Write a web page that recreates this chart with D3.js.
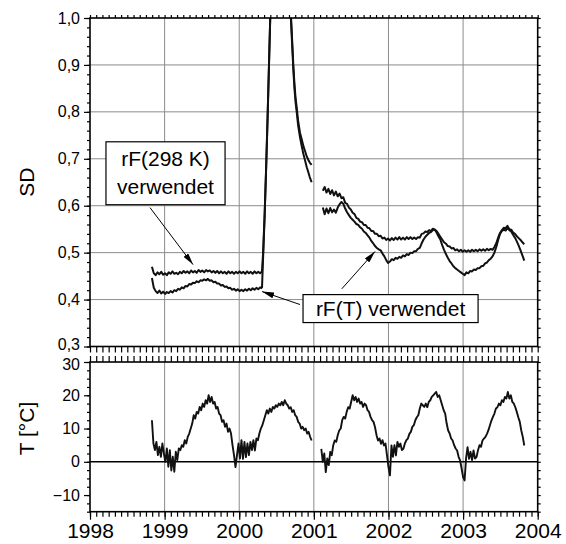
<!DOCTYPE html>
<html><head><meta charset="utf-8">
<script src="https://cdn.jsdelivr.net/npm/d3@7/dist/d3.min.js"></script>
<style>body{margin:0;background:#fff}svg{display:block}svg text{font-family:"Liberation Sans",Arial,sans-serif !important}</style>
</head><body><svg id="c" width="566" height="544" font-family="Liberation Sans"></svg>
<script>
// ---------- DATA ----------
const yearTicks = [1998, 1999, 2000, 2001, 2002, 2003, 2004];
const sdTicks = [0.3, 0.4, 0.5, 0.6, 0.7, 0.8, 0.9, 1.0];
const tTicks = [-10, 0, 10, 20, 30];

// SD, rF(298 K) verwendet (upper curve) – regularly sampled segments
const sdUpper1Start = 1998.83, sdStep = 0.025;
const sdUpper1 = [0.470,0.456,0.452,0.458,0.454,0.459,0.453,0.456,0.452,0.458,0.455,0.460,0.455,0.457,0.454,0.459,0.456,0.461,0.457,0.460,0.456,0.462,0.458,0.461,0.457,0.463,0.459,0.462,0.458,0.463,0.460,0.462,0.458,0.461,0.457,0.461,0.456,0.460,0.456,0.459,0.455,0.460,0.456,0.459,0.455,0.459,0.456,0.460,0.456,0.459,0.455,0.460,0.456,0.459,0.455,0.460,0.456,0.459,0.456,0.460];
// SD, rF(T) verwendet (lower curve)
const sdLower1 = [0.446,0.425,0.418,0.414,0.419,0.413,0.417,0.412,0.416,0.414,0.418,0.415,0.420,0.418,0.423,0.421,0.426,0.424,0.429,0.428,0.433,0.432,0.436,0.435,0.439,0.437,0.441,0.440,0.443,0.441,0.444,0.440,0.441,0.437,0.438,0.434,0.434,0.430,0.431,0.427,0.428,0.424,0.425,0.421,0.423,0.419,0.422,0.418,0.421,0.418,0.422,0.419,0.423,0.420,0.424,0.421,0.425,0.422,0.426,0.424];
// spike in 2000 (both curves)
const spikeYears = [2000.305,2000.32,2000.34,2000.36,2000.38,2000.40,2000.42,2000.46,2000.55,2000.64,2000.68,2000.695,2000.71,2000.725,2000.74,2000.755,2000.77,2000.79,2000.815,2000.84,2000.86,2000.885,2000.905,2000.925,2000.945,2000.97];
const spikeUpper = [0.460,0.50,0.58,0.68,0.79,0.91,1.03,1.15,1.25,1.15,1.05,1.00,0.95,0.90,0.86,0.83,0.81,0.78,0.755,0.74,0.727,0.715,0.705,0.698,0.692,0.687];
const spikeLower = [0.424,0.49,0.575,0.675,0.785,0.905,1.025,1.14,1.24,1.14,1.04,0.99,0.94,0.89,0.85,0.82,0.80,0.77,0.745,0.725,0.71,0.695,0.682,0.672,0.661,0.650];
const sd2Start = 2001.12;
const sdUpper2 = [0.632,0.640,0.628,0.636,0.625,0.633,0.622,0.630,0.620,0.626,0.616,0.618,0.606,0.604,0.596,0.592,0.585,0.582,0.574,0.572,0.566,0.565,0.559,0.559,0.553,0.552,0.546,0.546,0.540,0.540,0.535,0.536,0.530,0.532,0.527,0.530,0.526,0.531,0.527,0.532,0.528,0.533,0.528,0.532,0.528,0.533,0.529,0.533,0.529,0.532,0.529,0.533,0.532,0.540,0.541,0.545,0.544,0.548,0.546,0.551,0.549,0.546,0.540,0.534,0.528,0.522,0.519,0.514,0.513,0.509,0.510,0.505,0.507,0.503,0.506,0.502,0.505,0.502,0.505,0.502,0.506,0.503,0.506,0.503,0.507,0.504,0.507,0.504,0.508,0.505,0.508,0.506,0.512,0.520,0.532,0.542,0.548,0.553,0.552,0.557,0.550,0.549,0.543,0.540,0.535,0.531,0.527,0.522,0.518];
const sdLower2 = [0.596,0.582,0.594,0.584,0.595,0.586,0.592,0.585,0.596,0.603,0.608,0.604,0.594,0.586,0.580,0.574,0.570,0.566,0.561,0.559,0.554,0.551,0.545,0.542,0.537,0.532,0.525,0.520,0.514,0.510,0.507,0.505,0.498,0.492,0.484,0.478,0.481,0.486,0.484,0.489,0.487,0.491,0.489,0.494,0.492,0.497,0.495,0.500,0.499,0.503,0.503,0.508,0.510,0.520,0.528,0.534,0.538,0.542,0.544,0.548,0.549,0.543,0.535,0.528,0.516,0.506,0.497,0.489,0.482,0.477,0.471,0.467,0.464,0.461,0.458,0.455,0.452,0.458,0.456,0.461,0.460,0.464,0.463,0.467,0.467,0.471,0.472,0.477,0.479,0.484,0.487,0.492,0.500,0.512,0.527,0.540,0.546,0.549,0.547,0.552,0.548,0.545,0.538,0.532,0.524,0.515,0.505,0.494,0.483];

// Temperature T [°C]
const tStep = 0.02;
const t1Start = 1998.83;
const temp1 = [12.5,5.5,3.5,6,2,4.5,1.5,5.5,2.5,0,4,-1.5,3.5,-2.6,1.5,-3,3,0.5,4,3.5,5,4.5,6.5,5.5,7.5,8.5,10,11.5,14,13,15,14.5,16.5,15.5,17.5,16.5,18.5,17.5,20,18,19.5,17.5,18,16,16.5,14.5,14,12,12.5,10.5,11.5,9,10,8.5,5,2,-1.6,2,5.5,1,6.5,0.9,6,1.4,5.5,2,6,3.5,6.5,3.4,7,6.5,8.5,10,11,12.5,14,15.5,14.5,16,15,16.5,16,17,16.5,17.5,17,18,17,18.5,17.5,17,16,16.4,15,15.5,14,13.5,12,11.5,10,10.5,9.5,10,8.5,9,7.5,6.4];
const t2Start = 2001.10;
const temp2 = [3.9,0,2.5,-3.1,1,-1,3,2,5,6.4,6,8,9.4,10,12.5,13.5,13,15,16.4,16,18,20,18.5,19.5,18,19,17.5,18,16.5,17.5,17,15.5,15,13.5,12.5,12,10.4,8,6.4,7,5.4,6.5,4.9,5.5,2,-1.6,-4.1,4.9,1.5,5,1.9,6,4.5,5.5,3.5,3.9,5.5,6.5,7,8.4,9,10.5,11,12.5,13.4,14,16,17.5,17,16.5,17.5,16.4,18,18.5,19.5,20,20.5,21,19.5,20,18.5,17,15.5,14.5,11.5,9.4,8.5,7,6.4,5,4,3.4,1.5,0.4,-2,-4.6,-5.6,1,4.4,0.9,3,0.5,3.4,1,1.4,3.5,5,4.5,6.4,7,7.5,8.4,9.5,11,12.4,13.5,14.5,16,16.4,17.5,17,18.5,18,19.5,19,21,19,20,18,17.5,16.4,15,13.4,12,9.4,7.5,4.9];

// annotations (data coordinates: year, SD)
const box1 = {x0: 1998.214, x1: 1999.81, y0: 0.7362, y1: 0.6021, lines: ["rF(298 K)", "verwendet"]};
const box2 = {x0: 2000.855, x1: 2003.201, y0: 0.4106, y1: 0.351, lines: ["rF(T) verwendet"]};
const arrows = [
  {from: [1998.804, 0.596], to: [1999.381, 0.4745]},
  {from: [2000.815, 0.3894], to: [2000.306, 0.417]},
  {from: [2001.374, 0.4228], to: [2001.82, 0.5025]}
];

// ---------- CHART ----------
const FONT = "Liberation Sans";
const svg = d3.select("#c");
const x = d3.scaleLinear().domain([1998, 2004]).range([90, 537.7]);
const ySD = d3.scaleLinear().domain([0.3, 1.0]).range([346.5, 18]);
const yT = d3.scaleLinear().domain([-15, 30]).range([511.7, 362]);
const X0 = x.range()[0], X1 = x.range()[1];

const seg = (start, step, vals) => vals.map((v, i) => [start + i * step, v]);
const pairs = (xs, vs) => xs.map((d, i) => [d, vs[i]]);

const months = d3.range(0, 6 * 12 + 1).map(i => 1998 + i / 12);
const sdMinor = d3.range(0, 36).map(i => 0.3 + i * 0.02);
const tMinor = d3.range(0, 19).map(i => -15 + i * 2.5);
const gridColor = "#8c8c8c";

// defs
const defs = svg.append("defs");
defs.append("clipPath").attr("id", "clipTop").append("rect")
  .attr("x", X0).attr("y", ySD(1.0)).attr("width", X1 - X0).attr("height", ySD(0.3) - ySD(1.0));
defs.append("marker").attr("id", "ah").attr("viewBox", "0 0 12 6").attr("refX", 12).attr("refY", 3)
  .attr("markerWidth", 12).attr("markerHeight", 6).attr("markerUnits", "userSpaceOnUse").attr("orient", "auto")
  .append("path").attr("d", "M0,0 L12,3 L0,6 Z").attr("fill", "#000");

// grids top
const gTop = svg.append("g");
gTop.selectAll("line.h").data(sdTicks.slice(1, -1)).join("line")
  .attr("x1", X0).attr("x2", X1).attr("y1", d => ySD(d)).attr("y2", d => ySD(d))
  .attr("stroke", gridColor).attr("stroke-width", 1);
gTop.selectAll("line.v").data(yearTicks.slice(1, -1)).join("line")
  .attr("x1", d => x(d)).attr("x2", d => x(d)).attr("y1", ySD(1.0)).attr("y2", ySD(0.3))
  .attr("stroke", gridColor).attr("stroke-width", 1);
// grids bottom
const gBot = svg.append("g");
gBot.selectAll("line").data(yearTicks.slice(1, -1)).join("line")
  .attr("x1", d => x(d)).attr("x2", d => x(d)).attr("y1", yT(30)).attr("y2", yT(-15))
  .attr("stroke", gridColor).attr("stroke-width", 1);
gBot.append("line").attr("x1", X0).attr("x2", X1).attr("y1", yT(0)).attr("y2", yT(0))
  .attr("stroke", "#000").attr("stroke-width", 1.6);

// data lines
const lineSD = d3.line().x(d => x(d[0])).y(d => ySD(d[1]));
const lineT = d3.line().x(d => x(d[0])).y(d => yT(d[1]));
const sdSeries = [
  seg(sdUpper1Start, sdStep, sdUpper1), seg(sdUpper1Start, sdStep, sdLower1),
  pairs(spikeYears, spikeUpper), pairs(spikeYears, spikeLower),
  seg(sd2Start, sdStep, sdUpper2), seg(sd2Start, sdStep, sdLower2)
];
svg.append("g").attr("clip-path", "url(#clipTop)").selectAll("path").data(sdSeries).join("path")
  .attr("d", lineSD).attr("fill", "none").attr("stroke", "#111").attr("stroke-width", 2)
  .attr("stroke-linejoin", "round");
svg.append("g").selectAll("path").data([seg(t1Start, tStep, temp1), seg(t2Start, tStep, temp2)]).join("path")
  .attr("d", lineT).attr("fill", "none").attr("stroke", "#111").attr("stroke-width", 1.9)
  .attr("stroke-linejoin", "round");

// axes
function noDomain(g) {
  g.attr("font-family", FONT);
  g.select(".domain").remove(); g.selectAll("line").attr("stroke", "#000").attr("stroke-width", 1.2);
}
const fs = "16px";
// top panel left
svg.append("g").attr("transform", `translate(${X0},0)`)
  .call(d3.axisLeft(ySD).tickValues(sdMinor).tickSize(3).tickFormat("")).call(noDomain);
const sdAxis = svg.append("g").attr("transform", `translate(${X0},0)`)
  .call(d3.axisLeft(ySD).tickValues(sdTicks).tickSize(6).tickPadding(4)
    .tickFormat(d => d3.format(".1f")(d).replace(".", ","))).call(noDomain);
sdAxis.selectAll("text").attr("font-size", fs).attr("fill", "#000")
  .attr("dy", d => d === 0.3 ? "0.2em" : "0.32em");
// top panel right
svg.append("g").attr("transform", `translate(${X1},0)`)
  .call(d3.axisRight(ySD).tickValues(sdMinor).tickSize(3).tickFormat("")).call(noDomain);
// top panel top and bottom
svg.append("g").attr("transform", `translate(0,${ySD(1.0)})`)
  .call(d3.axisTop(x).tickValues(months).tickSize(3).tickFormat("")).call(noDomain);
svg.append("g").attr("transform", `translate(0,${ySD(0.3)})`)
  .call(d3.axisBottom(x).tickValues(months).tickSize(6).tickFormat("")).call(noDomain);
// bottom panel
svg.append("g").attr("transform", `translate(0,${yT(30)})`)
  .call(d3.axisTop(x).tickValues(months).tickSize(6).tickFormat("")).call(noDomain);
svg.append("g").attr("transform", `translate(0,${yT(-15)})`)
  .call(d3.axisBottom(x).tickValues(months).tickSize(5).tickFormat("")).call(noDomain);
svg.append("g").attr("transform", `translate(0,${yT(-15)})`)
  .call(d3.axisBottom(x).tickValues(yearTicks).tickSize(8).tickPadding(3).tickFormat(d3.format("d"))).call(noDomain)
  .selectAll("text").attr("font-size", "21px").attr("fill", "#000");
svg.append("g").attr("transform", `translate(${X0},0)`)
  .call(d3.axisLeft(yT).tickValues(tMinor).tickSize(3).tickFormat("")).call(noDomain);
const tAxis = svg.append("g").attr("transform", `translate(${X0},0)`)
  .call(d3.axisLeft(yT).tickValues(tTicks).tickSize(6).tickPadding(4).tickFormat(d3.format("d"))).call(noDomain);
tAxis.selectAll("text").attr("font-size", fs).attr("fill", "#000")
  .attr("dy", d => d === 30 ? "0.45em" : "0.32em");
svg.append("g").attr("transform", `translate(${X1},0)`)
  .call(d3.axisRight(yT).tickValues(tMinor).tickSize(3).tickFormat("")).call(noDomain);

// frames
svg.append("rect").attr("x", X0).attr("y", ySD(1.0)).attr("width", X1 - X0).attr("height", ySD(0.3) - ySD(1.0))
  .attr("fill", "none").attr("stroke", "#000").attr("stroke-width", 1.6);
svg.append("rect").attr("x", X0).attr("y", yT(30)).attr("width", X1 - X0).attr("height", yT(-15) - yT(30))
  .attr("fill", "none").attr("stroke", "#000").attr("stroke-width", 1.6);

// axis titles
svg.append("text").attr("transform", `translate(34,${(ySD(0.6) + ySD(0.7)) / 2}) rotate(-90)`)
  .attr("text-anchor", "middle").attr("font-size", "21px").attr("font-family", FONT).text("SD");
svg.append("text").attr("transform", `translate(34,${yT(10)}) rotate(-90)`)
  .attr("text-anchor", "middle").attr("font-size", "21px").attr("font-family", FONT).text("T [°C]");

// annotation boxes
function drawBox(b) {
  const g = svg.append("g").attr("font-family", FONT);
  g.append("rect").attr("x", x(b.x0)).attr("y", ySD(b.y0)).attr("width", x(b.x1) - x(b.x0))
    .attr("height", ySD(b.y1) - ySD(b.y0)).attr("fill", "#fff").attr("stroke", "#000").attr("stroke-width", 1.2);
  const cx = (x(b.x0) + x(b.x1)) / 2, top = ySD(b.y0), hgt = ySD(b.y1) - ySD(b.y0);
  const n = b.lines.length, lh = 28;
  b.lines.forEach((t, i) => {
    g.append("text").attr("x", cx).attr("y", top + hgt / 2 + (i - (n - 1) / 2) * lh + 7)
      .attr("text-anchor", "middle").attr("font-size", "21px").text(t);
  });
}
drawBox(box1); drawBox(box2);
svg.append("g").selectAll("line").data(arrows).join("line")
  .attr("x1", d => x(d.from[0])).attr("y1", d => ySD(d.from[1]))
  .attr("x2", d => x(d.to[0])).attr("y2", d => ySD(d.to[1]))
  .attr("stroke", "#000").attr("stroke-width", 1).attr("marker-end", "url(#ah)");
</script></body></html>
